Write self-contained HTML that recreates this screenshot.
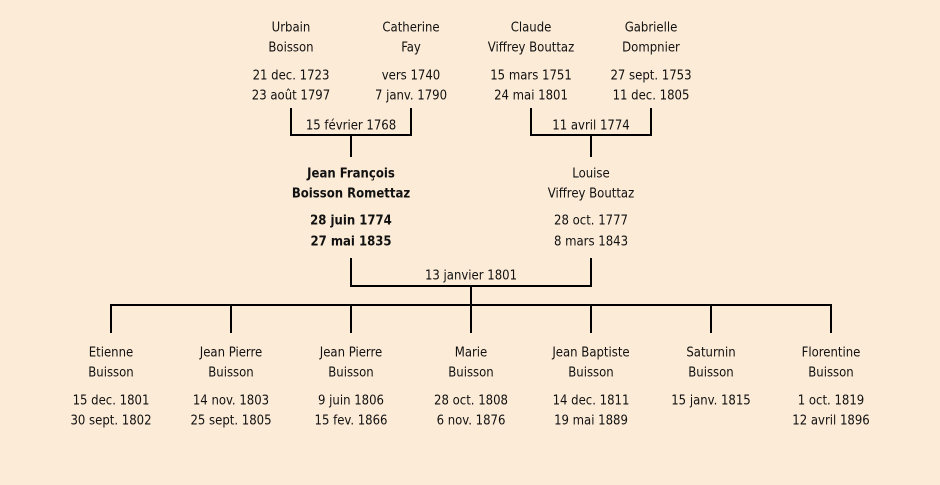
<!DOCTYPE html>
<html><head><meta charset="utf-8"><style>
html,body{margin:0;padding:0;background:#fcebd7;}
svg{display:block}
text{font-family:"Comic Sans MS","DejaVu Sans Condensed","Liberation Sans",sans-serif;font-size:13px;fill:#111;text-anchor:middle;dominant-baseline:central}
.b{font-weight:bold}
</style></head><body>
<svg width="940" height="485" viewBox="0 0 940 485">
<rect width="940" height="485" fill="#fcebd7"/>
<g stroke="#000" stroke-width="2" fill="none">
<polyline points="291,108 291,135 411,135 411,108"/>
<line x1="351" y1="135" x2="351" y2="157"/>
<polyline points="531,108 531,135 651,135 651,108"/>
<line x1="591" y1="135" x2="591" y2="157"/>
<polyline points="351,258 351,286 591,286 591,258"/>
<line x1="471" y1="286" x2="471" y2="305"/>
<line x1="110" y1="305" x2="832" y2="305"/>
<line x1="111" y1="305" x2="111" y2="333"/>
<line x1="231" y1="305" x2="231" y2="333"/>
<line x1="351" y1="305" x2="351" y2="333"/>
<line x1="471" y1="305" x2="471" y2="333"/>
<line x1="591" y1="305" x2="591" y2="333"/>
<line x1="711" y1="305" x2="711" y2="333"/>
<line x1="831" y1="305" x2="831" y2="333"/>
</g>
<g transform="translate(0,1)">
<text x="291" y="27">Urbain</text><text x="291" y="47">Boisson</text><text x="291" y="75">21 dec. 1723</text><text x="291" y="95">23 août 1797</text>
<text x="411" y="27">Catherine</text><text x="411" y="47">Fay</text><text x="411" y="75">vers 1740</text><text x="411" y="95">7 janv. 1790</text>
<text x="531" y="27">Claude</text><text x="531" y="47">Viffrey Bouttaz</text><text x="531" y="75">15 mars 1751</text><text x="531" y="95">24 mai 1801</text>
<text x="651" y="27">Gabrielle</text><text x="651" y="47">Dompnier</text><text x="651" y="75">27 sept. 1753</text><text x="651" y="95">11 dec. 1805</text>
<text x="351" y="125">15 février 1768</text>
<text x="591" y="125">11 avril 1774</text>
<text class="b" x="351" y="173">Jean François</text><text class="b" x="351" y="193">Boisson Romettaz</text><text class="b" x="351" y="220">28 juin 1774</text><text class="b" x="351" y="241">27 mai 1835</text>
<text x="591" y="173">Louise</text><text x="591" y="193">Viffrey Bouttaz</text><text x="591" y="220">28 oct. 1777</text><text x="591" y="241">8 mars 1843</text>
<text x="471" y="275">13 janvier 1801</text>
<text x="111" y="352">Etienne</text><text x="111" y="372">Buisson</text><text x="111" y="400">15 dec. 1801</text><text x="111" y="420">30 sept. 1802</text>
<text x="231" y="352">Jean Pierre</text><text x="231" y="372">Buisson</text><text x="231" y="400">14 nov. 1803</text><text x="231" y="420">25 sept. 1805</text>
<text x="351" y="352">Jean Pierre</text><text x="351" y="372">Buisson</text><text x="351" y="400">9 juin 1806</text><text x="351" y="420">15 fev. 1866</text>
<text x="471" y="352">Marie</text><text x="471" y="372">Buisson</text><text x="471" y="400">28 oct. 1808</text><text x="471" y="420">6 nov. 1876</text>
<text x="591" y="352">Jean Baptiste</text><text x="591" y="372">Buisson</text><text x="591" y="400">14 dec. 1811</text><text x="591" y="420">19 mai 1889</text>
<text x="711" y="352">Saturnin</text><text x="711" y="372">Buisson</text><text x="711" y="400">15 janv. 1815</text>
<text x="831" y="352">Florentine</text><text x="831" y="372">Buisson</text><text x="831" y="400">1 oct. 1819</text><text x="831" y="420">12 avril 1896</text>
</g>
</svg>
</body></html>
